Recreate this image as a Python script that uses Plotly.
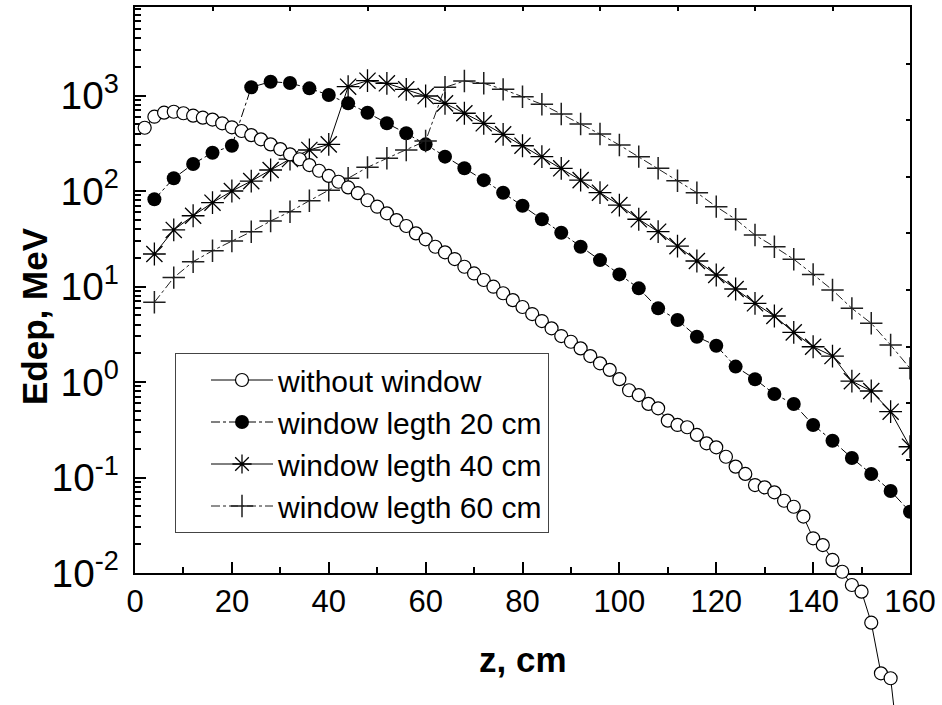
import plotly.graph_objects as go

# ---------------- data ----------------
z_nowin = list(range(2, 160, 2))
e_nowin = [460, 600, 661, 676, 652, 615, 586, 560, 512, 465,
           425, 385, 348, 308, 275, 242, 215, 187, 163, 144,
           125, 109, 95, 80, 68.5, 58.4, 49.6, 43, 36, 31.2,
           26.1, 22.8, 19.4, 16.1, 13.7, 11.7, 9.95, 8.5, 7.2, 6.1,
           5.15, 4.35, 3.65, 3.03, 2.64, 2.25, 1.87, 1.57, 1.34, 1.07,
           0.82, 0.73, 0.59, 0.53, 0.394, 0.355, 0.336, 0.279, 0.228, 0.207,
           0.165, 0.13, 0.109, 0.0834, 0.0789, 0.070, 0.0571, 0.0494, 0.039, 0.0231,
           0.0196, 0.0137, 0.0103, 0.00749, 0.00637, 0.00302, 0.00089, 0.00079, 0.0001]

z_win = list(range(4, 161, 4))
e_win20 = [81.9, 136, 192, 252, 298, 1219, 1396, 1352, 1189, 1011,
           828, 661, 512, 402, 308, 229, 173, 130, 96, 70,
           50.6, 36.6, 26.1, 18.9, 13.4, 9.57, 5.91, 4.46, 2.98, 2.40,
           1.45, 1.07, 0.748, 0.589, 0.355, 0.243, 0.16, 0.109, 0.0723, 0.0438]
e_win40 = [21.9, 39.1, 55.1, 75.5, 100, 127, 166, 216, 269, 308,
           1237, 1429, 1342, 1161, 988, 828, 652, 512, 392, 298,
           229, 173, 130, 96, 71.3, 50.6, 37.5, 26.5, 18.5, 13.2,
           9.42, 6.67, 4.91, 3.31, 2.34, 1.87, 1.02, 0.805, 0.489, 0.21]
e_win60 = [6.84, 12.4, 18.2, 23.7, 29.9, 37.5, 48.5, 60.7, 79.2, 102,
           136, 177, 220, 269, 334, 1219, 1419, 1342, 1161, 971,
           809, 640, 503, 395, 303, 229, 173, 128, 96, 68.6,
           50.6, 34.6, 26.1, 19.3, 13.4, 9.18, 5.91, 4.12, 2.44, 1.39]

names = ["without window", "window legth 20 cm", "window legth 40 cm", "window legth 60 cm"]
x_ticks = [0, 20, 40, 60, 80, 100, 120, 140, 160]
# plotly's default power labels -> labels as printed on the reference
y_label_alias = {
    "1": "10<sup>0</sup>",
    "10": "10<sup>1</sup>",
    "10<sup>\u22121</sup>": "10<sup>-1</sup>",
    "10<sup>\u22122</sup>": "10<sup>-2</sup>",
}

# ---------------- layout geometry ----------------
W, H = 942, 705
L, R, T, B = 135, 32, 7, 0
PLOT_BOTTOM_PX = 573
Y_MIN, Y_MAX = -2, 3.927
px_per_dec = (PLOT_BOTTOM_PX - T) / (Y_MAX - Y_MIN)
paper_h = H - T - B
paper_w = W - L - R
main_bottom = (H - B - PLOT_BOTTOM_PX) / paper_h
y2_min = Y_MAX - paper_h / px_per_dec

FONT = "Liberation Sans, Arial, sans-serif"
GRAY = "#1f1f1f"

fig = go.Figure()
# "without window" lives on an invisible twin axis with the same scale whose
# plotting area reaches the page bottom, so its tail is drawn below 10^-2
fig.add_trace(go.Scatter(
    x=z_nowin, y=e_nowin, name=names[0], mode="lines+markers", xaxis="x", yaxis="y2",
    line=dict(color="black", width=1),
    marker=dict(symbol="circle", size=13, color="white", line=dict(color="black", width=1.2)),
    cliponaxis=False))
fig.add_trace(go.Scatter(
    x=z_win, y=e_win20, name=names[1], mode="lines+markers", xaxis="x", yaxis="y",
    line=dict(color="black", width=1, dash="dashdot"),
    marker=dict(symbol="circle", size=14, color="black")))
fig.add_trace(go.Scatter(
    x=z_win, y=e_win40, name=names[2], mode="lines+markers", xaxis="x", yaxis="y",
    line=dict(color="black", width=1),
    marker=dict(symbol="asterisk-open", size=19, color="black", line=dict(color="black", width=1.3))))
fig.add_trace(go.Scatter(
    x=z_win, y=e_win60, name=names[3], mode="lines+markers", xaxis="x", yaxis="y",
    line=dict(color=GRAY, width=1, dash="dashdot"),
    marker=dict(symbol="cross-thin-open", size=16, color=GRAY, line=dict(color=GRAY, width=1.5))))
# empty traces so the top and right frame axes are created
fig.add_trace(go.Scatter(x=[], y=[], xaxis="x2", yaxis="y", showlegend=False, hoverinfo="skip"))
fig.add_trace(go.Scatter(x=[], y=[], xaxis="x", yaxis="y3", showlegend=False, hoverinfo="skip"))

fig.update_layout(
    width=W, height=H,
    margin=dict(l=L, r=R, t=T, b=B, autoexpand=False),
    paper_bgcolor="white", plot_bgcolor="rgba(0,0,0,0)",
    font=dict(family=FONT, color="black", size=31),
    showlegend=True,
    legend=dict(
        x=(175 - L) / paper_w, y=(H - B - 353) / paper_h, xanchor="left", yanchor="top",
        bgcolor="white", bordercolor="#444444", borderwidth=1,
        font=dict(family=FONT, size=30, color="black"),
        tracegroupgap=0, itemwidth=62, indentation=30,
    ),
    xaxis=dict(
        range=[0, 160], domain=[0, 1], anchor="y", automargin=False,
        tickmode="array", tickvals=x_ticks, ticktext=[str(v) for v in x_ticks],
        ticks="inside", ticklen=11, tickwidth=2, tickcolor="black",
        showline=True, linewidth=2, linecolor="black",
        showgrid=False, zeroline=False,
        minor=dict(ticks="inside", ticklen=6, tickwidth=1.5, tickcolor="black",
                   tick0=0, dtick=10, showgrid=False),
        tickfont=dict(family=FONT, size=31),
    ),
    yaxis=dict(
        type="log", range=[Y_MIN, Y_MAX], domain=[main_bottom, 1], anchor="x", automargin=False,
        tickmode="linear", tick0=0, dtick=1, exponentformat="power",
        labelalias=y_label_alias,
        ticks="inside", ticklen=11, tickwidth=2, tickcolor="black",
        showline=True, linewidth=2, linecolor="black",
        showgrid=False, zeroline=False,
        minor=dict(ticks="inside", ticklen=6, tickwidth=1.5, tickcolor="black",
                   dtick="D1", showgrid=False),
        tickfont=dict(family=FONT, size=31),
        ticklabelstandoff=8,
    ),
    yaxis2=dict(
        type="log", range=[y2_min, Y_MAX], domain=[0, 1], anchor="x", automargin=False,
        visible=False, showgrid=False, zeroline=False,
    ),
    xaxis2=dict(
        range=[0, 160], overlaying="x", side="top", anchor="y", automargin=False,
        tick0=0, dtick=16, ticks="inside", ticklen=4, tickwidth=1.5, tickcolor="black",
        showticklabels=False, showline=True, linewidth=2, linecolor="black",
        showgrid=False, zeroline=False,
    ),
    yaxis3=dict(
        range=[0, 10], overlaying="y", side="right", anchor="x", automargin=False,
        tick0=0, dtick=1, ticks="inside", ticklen=4, tickwidth=1.5, tickcolor="black",
        showticklabels=False, showline=True, linewidth=2, linecolor="black",
        showgrid=False, zeroline=False,
    ),
    annotations=[
        dict(text="<b>Edep, MeV</b>", textangle=-90, showarrow=False,
             xref="paper", yref="paper",
             x=(34 - L) / paper_w, y=(H - B - 316) / paper_h,
             xanchor="center", yanchor="middle",
             font=dict(family=FONT, size=35, color="black")),
        dict(text="<b>z, cm</b>", showarrow=False,
             xref="paper", yref="paper",
             x=0.5, y=(H - B - 659) / paper_h,
             xanchor="center", yanchor="middle",
             font=dict(family=FONT, size=35, color="black")),
    ],
)

fig.write_html("out.html")
